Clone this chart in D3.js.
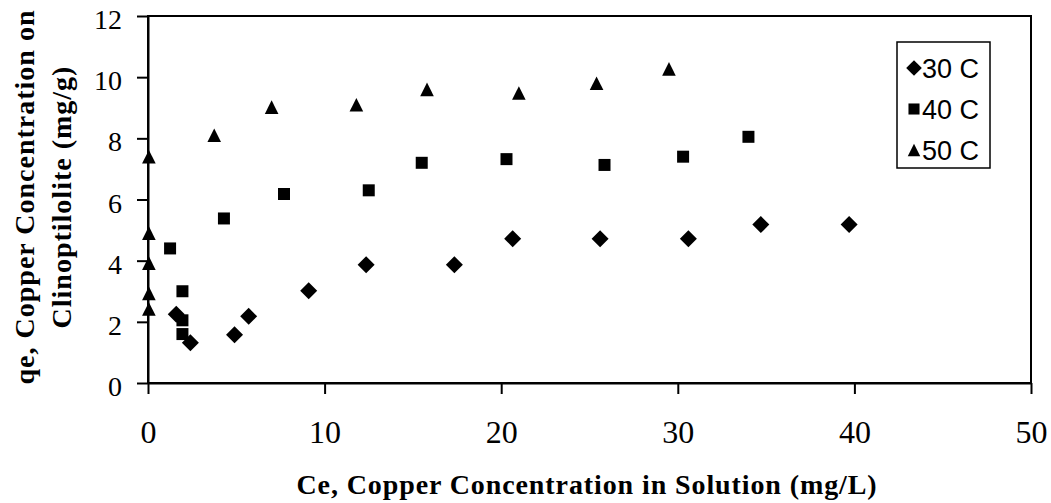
<!DOCTYPE html>
<html>
<head>
<meta charset="utf-8">
<script src="https://cdn.jsdelivr.net/npm/d3@7"></script>
<style>
  body { margin: 0; background: #fff; }
  svg { display: block; }
</style>
</head>
<body>
<svg id="chart" width="1051" height="503"></svg>
<script>
// readings of the picture, one array per temperature: [Ce (mg/L), qe (mg/g)]
const series30 = [
  [1.6, 2.25], [2.4, 1.32], [4.9, 1.58], [5.7, 2.18], [9.1, 3.02], [12.35, 3.87],
  [17.35, 3.87], [20.65, 4.72], [25.6, 4.72], [30.6, 4.72], [34.7, 5.18], [39.7, 5.18]
];
const series40 = [
  [1.25, 4.4], [1.95, 3.0], [1.95, 2.05], [1.95, 1.6], [4.3, 5.38], [7.7, 6.18],
  [12.5, 6.3], [15.5, 7.2], [20.3, 7.32], [25.85, 7.13], [30.3, 7.4], [34.0, 8.05]
];
const series50 = [
  [0.05, 7.4], [0.05, 4.9], [0.05, 3.92], [0.05, 2.93], [0.05, 2.42], [3.75, 8.1],
  [7.0, 9.02], [11.8, 9.1], [15.8, 9.6], [21.0, 9.48], [25.4, 9.8], [29.5, 10.27]
];
const seriesNames = ["30 C", "40 C", "50 C"];
const xTicks = [0, 10, 20, 30, 40, 50];
const yTicks = [0, 2, 4, 6, 8, 10, 12];

const serif = "'Liberation Serif', 'Times New Roman', serif";
const sans = "'Liberation Sans', Arial, sans-serif";

const plotLeft = 148, plotRight = 1031, plotTop = 16, plotBottom = 383;

// excel style markers
const diamond = {
  draw(ctx, size) {
    const r = Math.sqrt(size) / 2;
    ctx.moveTo(0, -r); ctx.lineTo(r, 0); ctx.lineTo(0, r); ctx.lineTo(-r, 0); ctx.closePath();
  }
};
const square = {
  draw(ctx, size) {
    const h = Math.sqrt(size) / 2;
    ctx.rect(-h, -h, 2 * h, 2 * h);
  }
};
const triangle = {
  draw(ctx, size) {
    const h = Math.sqrt(size) / 2;
    ctx.moveTo(0, -h); ctx.lineTo(h, h); ctx.lineTo(-h, h); ctx.closePath();
  }
};

const shapes = [
  { name: seriesNames[0], data: series30, type: diamond, size: 17 * 17 },
  { name: seriesNames[1], data: series40, type: square, size: 12 * 12 },
  { name: seriesNames[2], data: series50, type: triangle, size: 13.6 * 13.6 }
];

const svg = d3.select("#chart");

const x = d3.scaleLinear().domain([0, 50]).range([plotLeft, plotRight]);
const y = d3.scaleLinear().domain([0, 12]).range([plotBottom, plotTop]);

// plot frame
svg
  .append("rect")
  .attr("x", plotLeft)
  .attr("y", plotTop)
  .attr("width", plotRight - plotLeft)
  .attr("height", plotBottom - plotTop)
  .attr("fill", "none")
  .attr("stroke", "#000")
  .attr("stroke-width", 2);

const xAxis = svg
  .append("g")
  .attr("transform", `translate(0,${plotBottom})`)
  .call(d3.axisBottom(x).tickValues(xTicks).tickSizeInner(11).tickSizeOuter(0).tickFormat(d3.format("d")));

xAxis.select(".domain").attr("stroke-width", 2);
xAxis.selectAll(".tick line").attr("stroke-width", 2);
xAxis
  .selectAll(".tick text")
  .attr("y", 60)
  .attr("dy", null)
  .attr("font-family", serif)
  .attr("font-size", 32)
  .attr("fill", "#000");

const yAxis = svg
  .append("g")
  .attr("transform", `translate(${plotLeft},0)`)
  .call(d3.axisLeft(y).tickValues(yTicks).tickSizeInner(11).tickSizeOuter(0).tickPadding(15).tickFormat(d3.format("d")));

yAxis.select(".domain").attr("stroke-width", 2);
yAxis.selectAll(".tick line").attr("stroke-width", 2);
yAxis
  .selectAll(".tick text")
  .attr("dy", "0.45em")
  .attr("font-family", serif)
  .attr("font-size", 28)
  .attr("fill", "#000");

// markers
shapes.forEach((s) => {
  svg
    .append("g")
    .selectAll("path")
    .data(s.data)
    .join("path")
    .attr("transform", (d) => `translate(${x(d[0])},${y(d[1])})`)
    .attr("d", d3.symbol().type(s.type).size(s.size))
    .attr("fill", "#000");
});

// axis titles
svg
  .append("text")
  .attr("x", 587)
  .attr("y", 494)
  .attr("text-anchor", "middle")
  .attr("font-family", serif)
  .attr("font-weight", "bold")
  .attr("font-size", 28)
  .attr("letter-spacing", 0.9)
  .attr("fill", "#000")
  .text("Ce, Copper Concentration in Solution (mg/L)");

const yTitle = svg
  .append("text")
  .attr("transform", "translate(0,197) rotate(-90)")
  .attr("text-anchor", "middle")
  .attr("font-family", serif)
  .attr("font-weight", "bold")
  .attr("font-size", 28)
  .attr("letter-spacing", 1)
  .attr("fill", "#000");

yTitle.append("tspan").attr("x", 0).attr("y", 34).text("qe, Copper Concentration on");
yTitle.append("tspan").attr("x", 0).attr("y", 71).text("Clinoptilolite (mg/g)");

// legend
const legend = svg.append("g").attr("transform", "translate(897,42)");

legend
  .append("rect")
  .attr("width", 93)
  .attr("height", 126)
  .attr("fill", "#fff")
  .attr("stroke", "#000")
  .attr("stroke-width", 1.5);

const rowY = d3.scalePoint().domain(seriesNames).range([26, 108]);

const item = legend
  .selectAll("g.item")
  .data(shapes)
  .join("g")
  .attr("class", "item")
  .attr("transform", (d) => `translate(0,${rowY(d.name)})`);

item
  .append("path")
  .attr("transform", "translate(17,0)")
  .attr("d", (d) => d3.symbol().type(d.type).size(d.size * 0.85)())
  .attr("fill", "#000");

item
  .append("text")
  .attr("x", 25)
  .attr("y", 9.7)
  .attr("font-family", sans)
  .attr("font-size", 27)
  .attr("fill", "#000")
  .text((d) => d.name);
</script>
</body>
</html>
